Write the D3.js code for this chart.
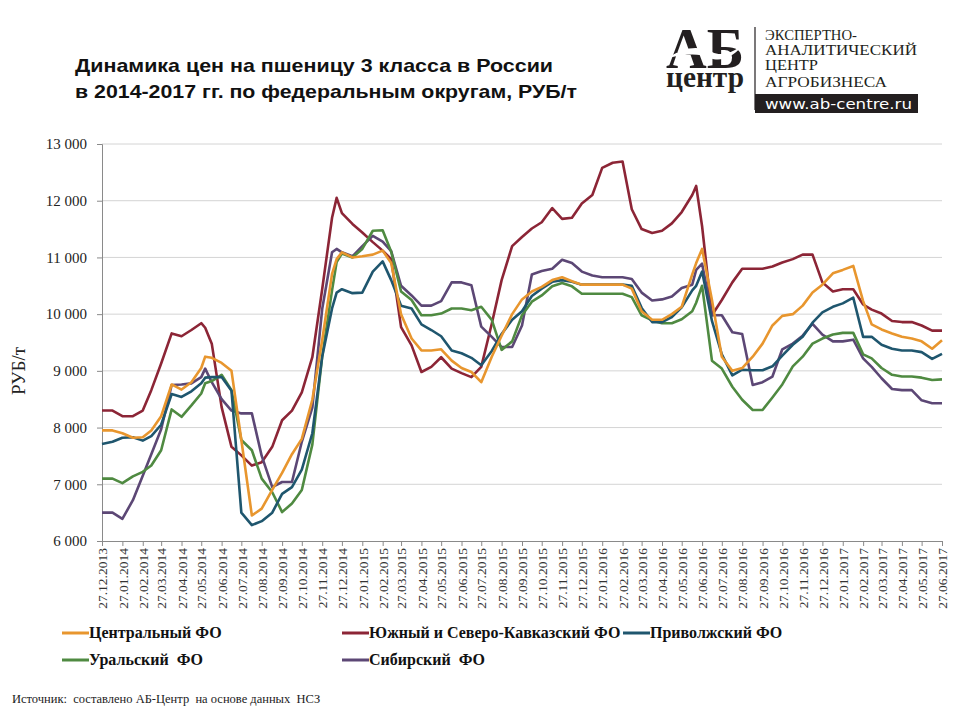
<!DOCTYPE html>
<html>
<head>
<meta charset="utf-8">
<script src="https://cdn.jsdelivr.net/npm/d3@7"></script>
<style>
  body { margin: 0; background: #fff; }
  svg { display: block; }
  text { white-space: pre; }
</style>
</head>
<body>
<svg id="chart" width="960" height="720"></svg>
<script>
// dates of the observations (semi-monthly, plus a few peak dates)
const dates = [
  '2013-12-27',
  '2014-01-12', '2014-01-27', '2014-02-12', '2014-02-27', '2014-03-12', '2014-03-27',
  '2014-04-12', '2014-04-27', '2014-05-12', '2014-05-27', '2014-06-02', '2014-06-12', '2014-06-27',
  '2014-07-12', '2014-07-27', '2014-08-12', '2014-08-27', '2014-09-12', '2014-09-27',
  '2014-10-12', '2014-10-27', '2014-11-12', '2014-11-27', '2014-12-12', '2014-12-19', '2014-12-27',
  '2015-01-12', '2015-01-27', '2015-02-12', '2015-02-27', '2015-03-12', '2015-03-27',
  '2015-04-12', '2015-04-27', '2015-05-12', '2015-05-27', '2015-06-12', '2015-06-27',
  '2015-07-12', '2015-07-27', '2015-08-12', '2015-08-27', '2015-09-12', '2015-09-27',
  '2015-10-12', '2015-10-27', '2015-11-12', '2015-11-27', '2015-12-12', '2015-12-27',
  '2016-01-12', '2016-01-27', '2016-02-12', '2016-02-27', '2016-03-12', '2016-03-27',
  '2016-04-12', '2016-04-27', '2016-05-12', '2016-05-27', '2016-06-12', '2016-06-18', '2016-06-27',
  '2016-07-12', '2016-07-27', '2016-08-12', '2016-08-27', '2016-09-12', '2016-09-27',
  '2016-10-12', '2016-10-27', '2016-11-12', '2016-11-27', '2016-12-12', '2016-12-27',
  '2017-01-12', '2017-01-27', '2017-02-12', '2017-02-27', '2017-03-12', '2017-03-27',
  '2017-04-12', '2017-04-27', '2017-05-12', '2017-05-27', '2017-06-12', '2017-06-27'
];

const central = [
  7950,
  7950, 7900, 7820, 7830, 7950, 8200,
  8760, 8670, 8800, 9050, 9250, 9230, 9140,
  9000, 7780, 6450, 6570, 6900, 7200,
  7530, 7800, 8490, 9540, 10710, 10970, 11090,
  11000, 11020, 11050, 11120, 10900, 10000,
  9570, 9360, 9360, 9380, 9180, 9050,
  8980, 8800, 9250, 9620, 10000, 10260,
  10400, 10480, 10600, 10650, 10580, 10520,
  10520, 10520, 10520, 10520, 10450, 10050,
  9900, 9900, 10000, 10130, 10700, 10900, 11150,
  10250, 9250, 9000, 9050, 9250, 9480,
  9800, 9970, 10000, 10150, 10380, 10520,
  10720, 10780, 10850, 10230, 9820, 9730,
  9660, 9600, 9570, 9520, 9390, 9540
];

const south = [
  8300,
  8300, 8200, 8200, 8300, 8660, 9130,
  9660, 9610, 9720, 9840, 9760, 9480, 8360,
  7660, 7510, 7330, 7390, 7660, 8130,
  8300, 8620, 9240, 10440, 11700, 12050, 11780,
  11590, 11440, 11270, 11120, 10970, 9770,
  9450, 8980, 9070, 9240, 9040, 8960,
  8890, 9070, 9830, 10600, 11200, 11360,
  11510, 11620, 11870, 11680, 11700, 11950,
  12100, 12580, 12670, 12690, 11850, 11500,
  11430, 11470, 11600, 11800, 12100, 12260, 11550,
  9980, 10250, 10560, 10800, 10800, 10800,
  10840, 10910, 10970, 11050, 11050, 10560,
  10400, 10440, 10440, 10170, 10080, 10010,
  9880, 9860, 9860, 9800, 9710, 9710
];

const volga = [
  7710,
  7750, 7820, 7830, 7770, 7850, 8050,
  8590, 8540, 8640, 8780, 8880, 8890, 8890,
  8650, 6500, 6280, 6350, 6500, 6830,
  6950, 7260, 7900, 9250, 10100, 10380, 10440,
  10370, 10380, 10750, 10930, 10600, 10150,
  10100, 9820, 9720, 9610, 9360, 9310,
  9230, 9100, 9350, 9650, 9900, 10050,
  10320, 10450, 10570, 10600, 10570, 10520,
  10520, 10520, 10520, 10520, 10500, 10110,
  9860, 9860, 9950, 10120, 10420, 10500, 10750,
  9880, 9290, 8920, 9020, 9010, 9010,
  9080, 9270, 9460, 9600, 9850, 10030,
  10130, 10190, 10290, 9600, 9600, 9460,
  9390, 9360, 9360, 9330, 9210, 9300
];

const ural = [
  7100,
  7100, 7020, 7140, 7220, 7330, 7600,
  8320, 8190, 8390, 8600, 8780, 8820, 8930,
  8660, 7780, 7600, 7100, 6860, 6510,
  6660, 6900, 7700, 9250, 10420, 10920, 11070,
  11000, 11150, 11470, 11480, 11100, 10400,
  10250, 9980, 9980, 10010, 10100, 10100,
  10070, 10130, 9900, 9370, 9520, 9980,
  10220, 10330, 10490, 10550, 10490, 10360,
  10360, 10360, 10360, 10360, 10300, 9980,
  9890, 9840, 9840, 9910, 10050, 10200, 10500,
  9180, 9040, 8720, 8490, 8310, 8310,
  8530, 8760, 9080, 9250, 9480, 9570,
  9640, 9670, 9670, 9290, 9220, 9050,
  8930, 8900, 8900, 8880, 8840, 8850
];

const siberia = [
  6500,
  6500, 6390, 6720, 7150, 7530, 7970,
  8750, 8760, 8780, 8890, 9040, 8800, 8500,
  8300, 8250, 8250, 7500, 6950, 7040,
  7040, 7750, 8350, 10090, 11090, 11150, 11090,
  11020, 11200, 11380, 11280, 11110, 10500,
  10330, 10150, 10150, 10230, 10560, 10560,
  10510, 9780, 9600, 9420, 9420, 9800,
  10700, 10760, 10800, 10960, 10900, 10750,
  10680, 10650, 10650, 10650, 10620, 10380,
  10240, 10260, 10310, 10460, 10520, 10780, 10890,
  9980, 9980, 9680, 9650, 8750, 8800,
  8900, 9380, 9480, 9620, 9830, 9640,
  9520, 9520, 9550, 9220, 9070, 8870,
  8680, 8660, 8660, 8480, 8430, 8430
];

const tickLabels = [
  '27.12.2013',
  '27.01.2014', '27.02.2014', '27.03.2014', '27.04.2014', '27.05.2014', '27.06.2014',
  '27.07.2014', '27.08.2014', '27.09.2014', '27.10.2014', '27.11.2014', '27.12.2014',
  '27.01.2015', '27.02.2015', '27.03.2015', '27.04.2015', '27.05.2015', '27.06.2015',
  '27.07.2015', '27.08.2015', '27.09.2015', '27.10.2015', '27.11.2015', '27.12.2015',
  '27.01.2016', '27.02.2016', '27.03.2016', '27.04.2016', '27.05.2016', '27.06.2016',
  '27.07.2016', '27.08.2016', '27.09.2016', '27.10.2016', '27.11.2016', '27.12.2016',
  '27.01.2017', '27.02.2017', '27.03.2017', '27.04.2017', '27.05.2017', '27.06.2017'
];

const yTicks = [6000, 7000, 8000, 9000, 10000, 11000, 12000, 13000];

const seriesNames = ['Центральный ФО', 'Южный и Северо-Кавказский ФО', 'Приволжский ФО', 'Уральский  ФО', 'Сибирский  ФО'];
const seriesColors = ['#e8962e', '#8c2536', '#1f566e', '#4f8a41', '#5c4775'];
const seriesValues = [central, south, volga, ural, siberia];

// draw order: southern line sits under, central on top like the original
const drawOrder = [1, 4, 3, 2, 0];

const parseDate = d3.timeParse('%Y-%m-%d');
const parseTick = d3.timeParse('%d.%m.%Y');

const plot = { left: 102, right: 942, top: 144, bottom: 541 };

const svg = d3.select('#chart');

const x = d3.scaleTime()
  .domain([parseTick(tickLabels[0]), parseTick(tickLabels[tickLabels.length - 1])])
  .range([plot.left, plot.right]);

const y = d3.scaleLinear()
  .domain([6000, 13000])
  .range([plot.bottom, plot.top]);

const ruFormat = d3.formatLocale({ decimal: ',', thousands: '\u00a0', grouping: [3], currency: ['', ''] }).format(',d');

// title
const title = svg.append('g')
  .attr('font-family', '"Liberation Sans", Arial, sans-serif')
  .attr('font-weight', 'bold')
  .attr('font-size', 19)
  .attr('fill', '#111');
title.append('text').attr('x', 75).attr('y', 72)
  .attr('textLength', 478).attr('lengthAdjust', 'spacingAndGlyphs')
  .text('Динамика цен на пшеницу 3 класса в России');
title.append('text').attr('x', 75).attr('y', 98)
  .attr('textLength', 502).attr('lengthAdjust', 'spacingAndGlyphs')
  .text('в 2014-2017 гг. по федеральным округам, РУБ/т');

// logo: the big letters and "центр" are one text block
const logo = svg.append('g').attr('fill', '#231f20');
const mark = logo.append('text')
  .attr('font-family', '"Liberation Serif", serif').attr('font-weight', 'bold');
mark.append('tspan')
  .attr('x', 666).attr('y', 68)
  .attr('font-size', 56)
  .attr('textLength', 78).attr('lengthAdjust', 'spacingAndGlyphs')
  .text('АБ');
mark.append('tspan')
  .attr('x', 666).attr('y', 87)
  .attr('font-size', 30)
  .attr('textLength', 78).attr('lengthAdjust', 'spacingAndGlyphs')
  .text('центр');
logo.append('path')
  .attr('d', 'M668,58 C685,46 700,46 712,52 C722,57 732,52 742,46 C732,58 720,62 710,58 C698,53 686,54 668,58 Z')
  .attr('fill', '#fff');
logo.append('line')
  .attr('x1', 755).attr('x2', 755).attr('y1', 27).attr('y2', 110)
  .attr('stroke', '#231f20').attr('stroke-width', 1.2);

const logoLines = [
  { t: 'ЭКСПЕРТНО-', w: 92, y: 40 },
  { t: 'АНАЛИТИЧЕСКИЙ', w: 152, y: 55 },
  { t: 'ЦЕНТР', w: 53, y: 70 },
  { t: 'АГРОБИЗНЕСА', w: 122, y: 87 }
];
logo.selectAll('text.logo-line')
  .data(logoLines)
  .join('text')
  .attr('class', 'logo-line')
  .attr('x', 765).attr('y', d => d.y)
  .attr('font-family', '"Liberation Serif", serif')
  .attr('font-size', 15)
  .attr('textLength', d => d.w).attr('lengthAdjust', 'spacingAndGlyphs')
  .text(d => d.t);
logo.append('rect')
  .attr('x', 755).attr('y', 94).attr('width', 163).attr('height', 19)
  .attr('fill', '#231f20');
logo.append('text')
  .attr('x', 765).attr('y', 109)
  .attr('font-family', '"DejaVu Sans", sans-serif')
  .attr('font-size', 14)
  .attr('fill', '#fff')
  .attr('textLength', 147).attr('lengthAdjust', 'spacingAndGlyphs')
  .text('www.ab-centre.ru');

// gridlines
svg.append('g')
  .selectAll('line')
  .data(yTicks.slice(1))
  .join('line')
  .attr('x1', plot.left).attr('x2', plot.right)
  .attr('y1', d => y(d)).attr('y2', d => y(d))
  .attr('stroke', '#d4d4d4').attr('stroke-width', 1);

// y axis
const yAxis = svg.append('g')
  .attr('transform', `translate(${plot.left},0)`)
  .call(d3.axisLeft(y).tickValues(yTicks).tickFormat(ruFormat).tickSize(5).tickPadding(10));
yAxis.select('.domain').attr('stroke', '#8a8a8a');
yAxis.selectAll('.tick line').attr('stroke', '#8a8a8a');
yAxis.selectAll('.tick text')
  .attr('font-family', '"Liberation Serif", serif')
  .attr('font-size', 15)
  .attr('fill', '#222');

svg.append('text')
  .attr('transform', 'translate(25,371) rotate(-90)')
  .attr('text-anchor', 'middle')
  .attr('font-family', '"Liberation Serif", serif')
  .attr('font-size', 19)
  .attr('fill', '#222')
  .text('РУБ/т');

// x axis
const xAxis = svg.append('g')
  .attr('transform', `translate(0,${plot.bottom})`)
  .call(d3.axisBottom(x)
    .tickValues(tickLabels.map(parseTick))
    .tickFormat(d3.timeFormat('%d.%m.%Y'))
    .tickSize(5));
xAxis.select('.domain').attr('stroke', '#8a8a8a');
xAxis.selectAll('.tick line').attr('stroke', '#8a8a8a');
xAxis.selectAll('.tick text')
  .attr('font-family', '"Liberation Serif", serif')
  .attr('font-size', 13.5)
  .attr('fill', '#333')
  .attr('text-anchor', 'end')
  .attr('transform', 'rotate(-90)')
  .attr('x', -7)
  .attr('y', 0)
  .attr('dy', '0.35em');

// series lines
const line = d3.line()
  .x((d, i) => x(parseDate(dates[i])))
  .y(d => y(d));

svg.append('g')
  .selectAll('path')
  .data(drawOrder)
  .join('path')
  .attr('d', k => line(seriesValues[k]))
  .attr('fill', 'none')
  .attr('stroke', k => seriesColors[k])
  .attr('stroke-width', 2.6)
  .attr('stroke-linejoin', 'round');

// legend
const legendItems = [
  { k: 0, x: 62, y: 633 },
  { k: 1, x: 342, y: 633 },
  { k: 2, x: 623, y: 633 },
  { k: 3, x: 62, y: 660 },
  { k: 4, x: 342, y: 660 }
];
const legend = svg.append('g')
  .selectAll('g')
  .data(legendItems)
  .join('g')
  .attr('transform', d => `translate(${d.x},${d.y})`);
legend.append('line')
  .attr('x1', 0).attr('x2', 27)
  .attr('stroke', d => seriesColors[d.k])
  .attr('stroke-width', 3);
legend.append('text')
  .attr('x', 27).attr('y', 5)
  .attr('font-family', '"Liberation Serif", serif')
  .attr('font-weight', 'bold')
  .attr('font-size', 16)
  .attr('fill', '#111')
  .text(d => seriesNames[d.k]);

// source
svg.append('text')
  .attr('x', 12).attr('y', 703)
  .attr('font-family', '"Liberation Serif", serif')
  .attr('font-size', 12.5)
  .attr('fill', '#222')
  .text('Источник:  составлено АБ-Центр  на основе данных  НСЗ');
</script>
</body>
</html>
